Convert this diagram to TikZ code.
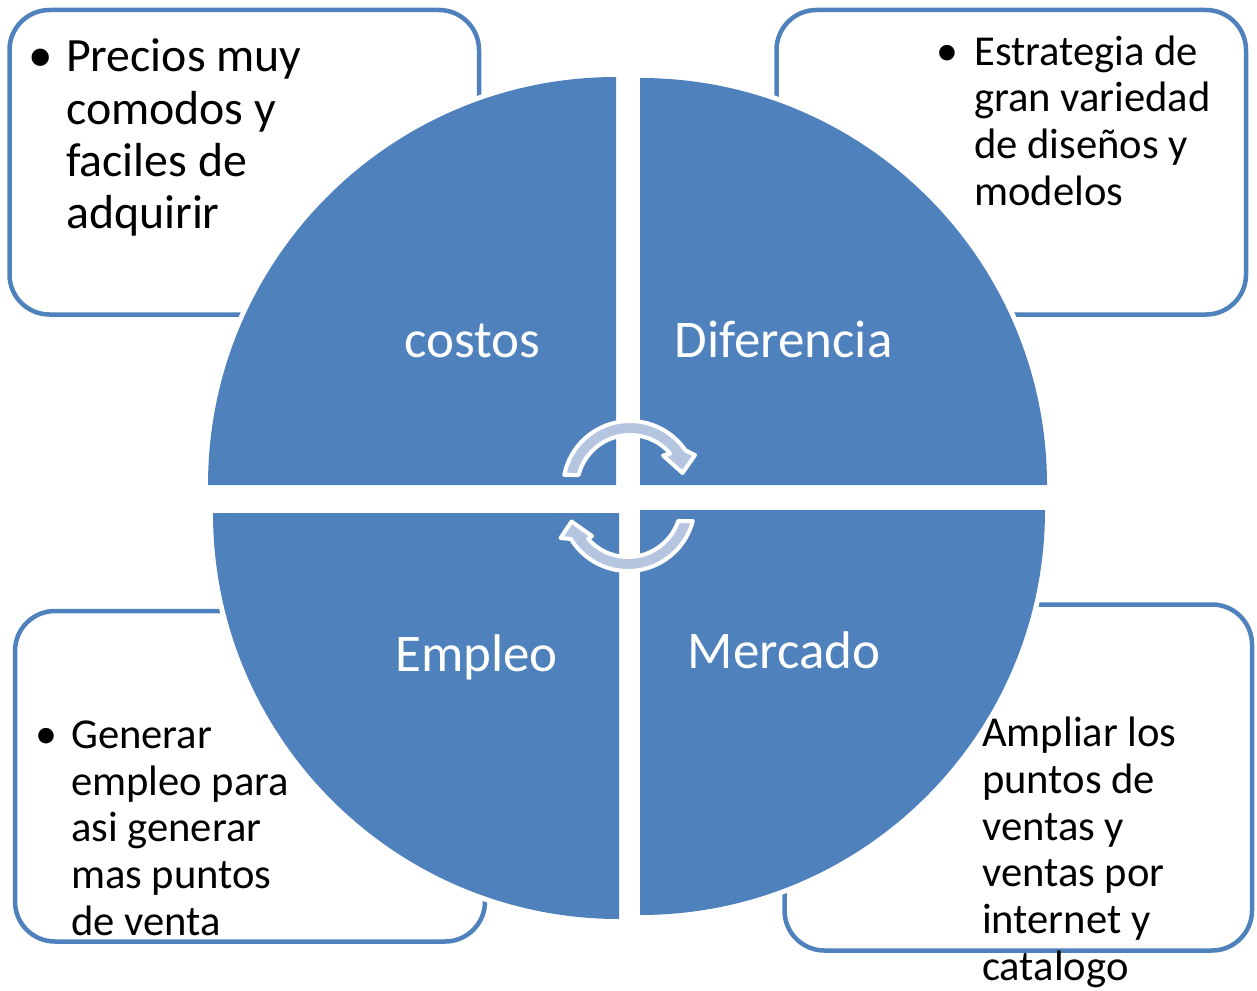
\documentclass[tikz,border=0pt]{standalone}
\usepackage{fontspec}
\setmainfont{Carlito}
\usetikzlibrary{calc}
\definecolor{accblue}{RGB}{79,129,189}
\definecolor{arrowblue}{RGB}{181,197,224}
\begin{document}
\begin{tikzpicture}[x=1pt,y=-1pt,
  infobox/.style={draw=accblue, line width=4.5pt, rounded corners=40pt, fill=white},
  pieq/.style={fill=accblue, preaction={draw=white, line width=10pt}},
  quartlabel/.style={text=white, font=\fontsize{53}{63}\selectfont, anchor=base, inner sep=0pt},
  boxline/.style={anchor=base west, inner sep=0pt, font=\fontsize{42.6}{51}\selectfont},
  bigline/.style={anchor=base west, inner sep=0pt, font=\fontsize{47.8}{57}\selectfont},
  bulletmark/.style={anchor=base, inner sep=0pt},
  cyclearrow/.style={fill=arrowblue, draw=white, line width=4pt, line join=round}
]
\useasboundingbox (0,0) rectangle (1257,990);

% corner boxes
\draw[infobox] (9.5,10) rectangle (479,314.5);
\draw[infobox] (776.5,10) rectangle (1246,314.5);
\draw[infobox] (15,611) rectangle (485,941.5);
\draw[infobox] (784.5,604.5) rectangle (1252,950.5);

% quarters
\path[pieq] (616,485) -- (208,485) arc[start angle=180, end angle=270, radius=408] -- cycle;
\path[pieq] (640,485) -- (640,78) arc[start angle=270, end angle=360, radius=407] -- cycle;
\path[pieq] (640,510) -- (1045,510) arc[start angle=0, end angle=90, radius=405] -- cycle;
\path[pieq] (619,513) -- (619,919) arc[start angle=90, end angle=180, radius=406] -- cycle;

% quarter labels
\node[quartlabel] (lcostos) at (472.5,357) {costos};
\node[quartlabel] (ldif) at (783.5,357) {Diferencia};
\node[quartlabel] (lempleo) at (476.5,671) {Empleo};
\node[quartlabel] (lmercado) at (784,668) {Mercado};

% cycle arrows
\coordinate (ctop) at (630,488);
\coordinate (cbot) at (628,504);
\draw[cyclearrow] ($(ctop)+(-168.8:67)$) arc[start angle=-168.8, end angle=-34.3, radius=67]
  -- (695,455) -- (682.5,473) -- (663,455.5) -- ($(ctop)+(-40.6:53)$)
  arc[start angle=-40.6, end angle=-165.8, radius=53] -- cycle;
\draw[cyclearrow] ($(cbot)+(14.7:67)$) arc[start angle=14.7, end angle=148.5, radius=67]
  -- (560.5,538) -- (571.5,521.5) -- (592,536) -- ($(cbot)+(138.7:53)$)
  arc[start angle=138.7, end angle=18.7, radius=53] -- cycle;

% top-left text
\node[bulletmark, font=\fontsize{49}{57}\selectfont] (tlb) at (41.2,71.7) {•};
\node[bigline] (tl1) at (66,71.7) {Precios muy};
\node[bigline] (tl2) at (66,124) {comodos y};
\node[bigline] (tl3) at (66,176.3) {faciles de};
\node[bigline] (tl4) at (66,228.6) {adquirir};

% top-right text
\node[bulletmark, font=\fontsize{44}{51}\selectfont] (trb) at (947.5,65) {•};
\node[boxline] (tr1) at (974,65) {Estrategia de};
\node[boxline] (tr2) at (974,111.7) {gran variedad};
\node[boxline] (tr3) at (974,158.4) {de diseños y};
\node[boxline] (tr4) at (974,205.1) {modelos};

% bottom-left text
\node[bulletmark, font=\fontsize{44}{51}\selectfont] (blb) at (46.2,748.3) {•};
\node[boxline] (bl1) at (71,748.3) {Generar};
\node[boxline] (bl2) at (71,795) {empleo para};
\node[boxline] (bl3) at (71,841.7) {asi generar};
\node[boxline] (bl4) at (71,888.4) {mas puntos};
\node[boxline] (bl5) at (71,935.1) {de venta};

% bottom-right text
\node[boxline] (br1) at (982,746.7) {Ampliar los};
\node[boxline] (br2) at (982,793.4) {puntos de};
\node[boxline] (br3) at (982,840.1) {ventas y};
\node[boxline] (br4) at (982,886.8) {ventas por};
\node[boxline] (br5) at (982,933.5) {internet y};
\node[boxline] (br6) at (982,980.2) {catalogo};
\end{tikzpicture}
\end{document}
